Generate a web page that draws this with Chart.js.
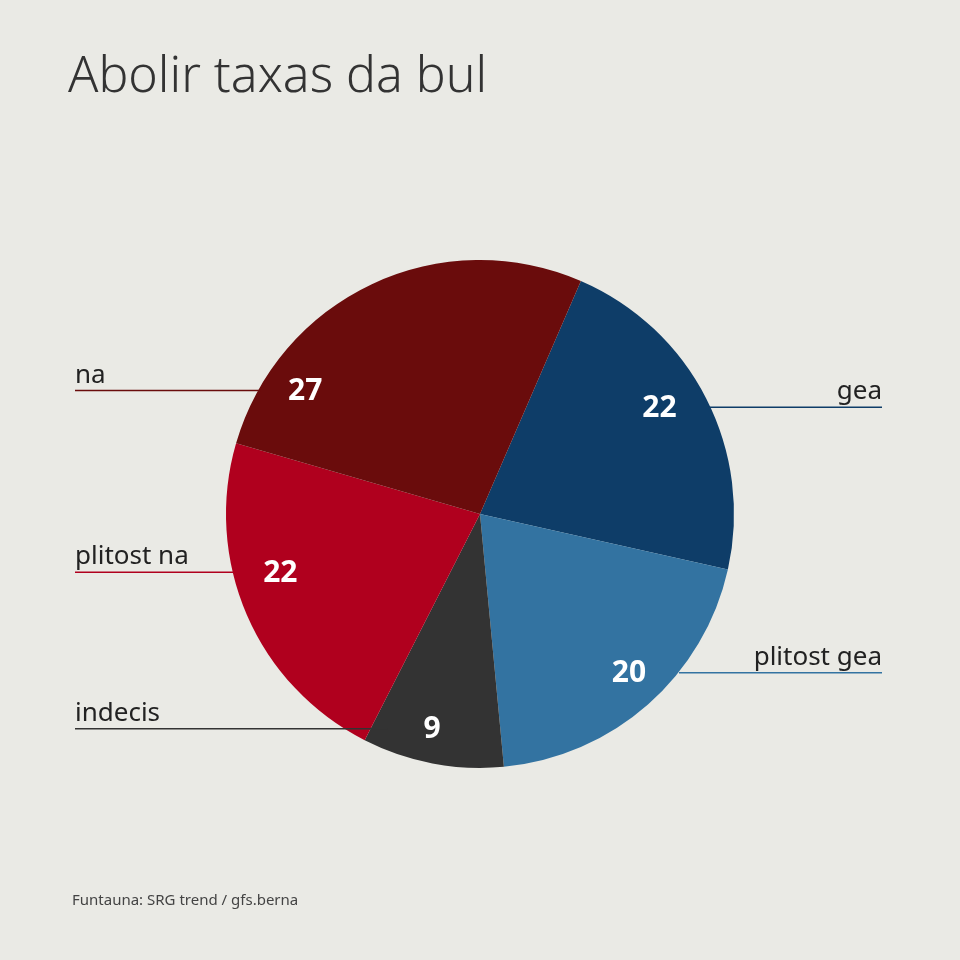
<!DOCTYPE html>
<html><head><meta charset="utf-8">
<script src="https://cdn.jsdelivr.net/npm/chart.js@4"></script>
<style>html,body{margin:0;padding:0;background:#eaeae5}canvas{display:block}</style>
</head><body>
<div style="width:960px;height:960px"><canvas id="c"></canvas></div>
<script>
const categories = ["gea", "plitost gea", "indecis", "plitost na", "na"];
const values = [22, 20, 9, 22, 27];
const colors = ["#0e3d68", "#3373a1", "#333333", "#b0001e", "#6a0c0c"];
const titleText = "Abolir taxas da bul";
const sourceText = "Funtauna: SRG trend / gfs.berna";
// label placement (angle from top clockwise, radius fraction, side)
const labelAngles = [59.5, 137, 192.5, 253.5, 305];
const labelRadii = [0.82, 0.86, 0.87, 0.82, 0.84];
const labelSides = ["right", "right", "left", "left", "left"];

const deco = {
  id: "deco",
  beforeDraw(chart) {
    const ctx = chart.ctx;
    ctx.save();
    ctx.fillStyle = "#eaeae5";
    ctx.fillRect(0, 0, chart.width, chart.height);
    ctx.fillStyle = "#333";
    ctx.font = "300 50px 'Noto Sans'";
    ctx.textBaseline = "middle";
    ctx.fillText(titleText, 68, 78);
    ctx.font = "15px 'Noto Sans'";
    ctx.fillStyle = "#444";
    ctx.fillText(sourceText, 72, 901);
    ctx.restore();
  },
  afterDraw(chart) {
    const ctx = chart.ctx;
    const meta = chart.getDatasetMeta(0);
    ctx.save();
    meta.data.forEach((arc, i) => {
      const a = labelAngles[i] * Math.PI / 180;
      const r = arc.outerRadius * labelRadii[i];
      const x = arc.x + Math.sin(a) * r;
      const y = arc.y - Math.cos(a) * r;
      // leader line
      ctx.strokeStyle = colors[i];
      ctx.lineWidth = 1.5;
      ctx.beginPath();
      const ly = y - 1;
      if (labelSides[i] === "left") { ctx.moveTo(75, ly); ctx.lineTo(x - 45, ly); }
      else { ctx.moveTo(x + 50, ly); ctx.lineTo(882, ly); }
      ctx.stroke();
      // category text
      ctx.fillStyle = "#222";
      ctx.font = "26px 'Noto Sans'";
      ctx.textBaseline = "alphabetic";
      if (labelSides[i] === "left") { ctx.textAlign = "left"; ctx.fillText(categories[i], 75, ly - 8); }
      else { ctx.textAlign = "right"; ctx.fillText(categories[i], 882, ly - 8); }
      // value
      ctx.fillStyle = "#fff";
      ctx.font = "bold 30px 'Noto Sans'";
      ctx.textAlign = "center";
      ctx.textBaseline = "middle";
      ctx.fillText(String(values[i]), x, y);
    });
    ctx.restore();
  }
};

new Chart(document.getElementById("c"), {
  type: "pie",
  data: { labels: categories, datasets: [{ data: values, backgroundColor: colors, borderWidth: 0 }] },
  options: {
    responsive: true, maintainAspectRatio: false, animation: false,
    rotation: 23.4,
    layout: { padding: { left: 226, right: 226, top: 260, bottom: 192 } },
    plugins: { legend: { display: false }, tooltip: { enabled: false } }
  },
  plugins: [deco]
});
</script>
</body></html>
